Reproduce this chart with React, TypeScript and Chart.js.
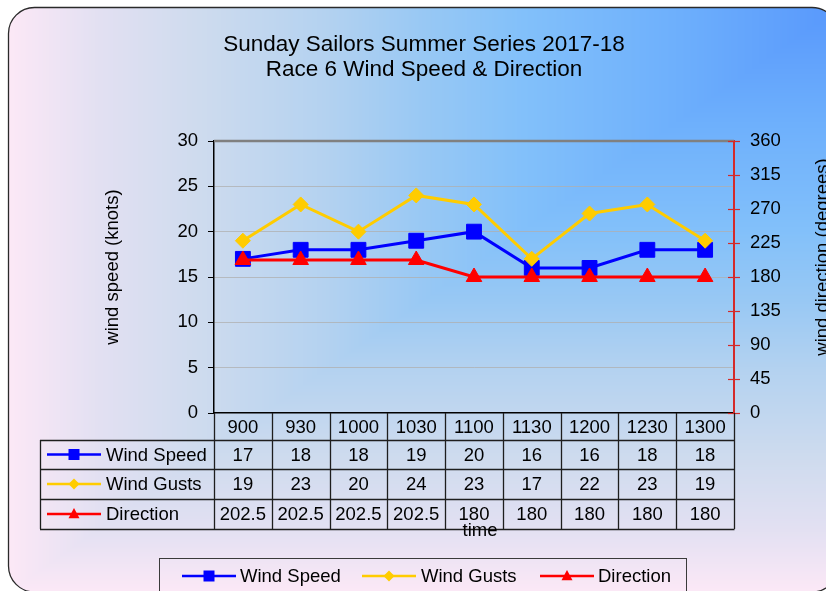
import { useEffect, useRef } from 'react';
import { Chart, registerables } from 'chart.js';

Chart.register(...registerables);

// ---------- data ----------
const times = ['900', '930', '1000', '1030', '1100', '1130', '1200', '1230', '1300'];
const windSpeed = [17, 18, 18, 19, 20, 16, 16, 18, 18];
const windGusts = [19, 23, 20, 24, 23, 17, 22, 23, 19];
const direction = [202.5, 202.5, 202.5, 202.5, 180, 180, 180, 180, 180];
const seriesNames = ['Wind Speed', 'Wind Gusts', 'Direction'];
const titleLines = ['Sunday Sailors Summer Series 2017-18', 'Race 6 Wind Speed & Direction'];
const leftAxisTitle = 'wind speed (knots)';
const rightAxisTitle = 'wind direction (degrees)';
const xAxisTitle = 'time';

// ---------- styles ----------
const FONT = "'Liberation Sans', Arial, sans-serif";
const BLUE = '#0000ff';
const YELLOW = '#ffcc00';
const RED = '#ff0000';
const AXIS_RED = '#d42a2a';
const seriesColors = [BLUE, YELLOW, RED];
const seriesMarkers = ['rect', 'diamond', 'triangle'];
const tableValues = [windSpeed, windGusts, direction];

const BOX = { l: 8.5, t: 7.5, r: 838, b: 592, rad: 26 };
const gradStops: [number, number[]][] = [
  [0, [0x58, 0x98, 0xfc]],
  [0.2, [0x6e, 0xb0, 0xfc]],
  [0.38, [0x82, 0xc0, 0xfa]],
  [0.5, [0x98, 0xc8, 0xf4]],
  [0.62, [0xb4, 0xd2, 0xf0]],
  [0.77, [0xce, 0xdb, 0xee]],
  [0.89, [0xe2, 0xe0, 0xf2]],
  [1, [0xfc, 0xe8, 0xf6]],
];

function gradColor(t: number) {
  t = Math.max(0, Math.min(1, t));
  for (let i = 1; i < gradStops.length; i++) {
    const [t1, c1] = gradStops[i];
    const [t0, c0] = gradStops[i - 1];
    if (t <= t1) {
      const f = (t - t0) / (t1 - t0);
      return [0, 1, 2].map((k) => c0[k] + (c1[k] - c0[k]) * f);
    }
  }
  return gradStops[gradStops.length - 1][1];
}

let bgCache: HTMLCanvasElement | null = null;
function getBg(w: number, h: number) {
  if (bgCache && bgCache.width === w && bgCache.height === h) return bgCache;
  const c = document.createElement('canvas');
  c.width = w;
  c.height = h;
  const cx = c.getContext('2d')!;
  const img = cx.createImageData(w, h);
  const W = BOX.r - BOX.l;
  const H = BOX.b - BOX.t;
  for (let y = 0; y < h; y++) {
    for (let x = 0; x < w; x++) {
      const t = Math.max((BOX.r - x) / W, (y - BOX.t) / H);
      const col = gradColor(t);
      const i = (y * w + x) * 4;
      img.data[i] = col[0];
      img.data[i + 1] = col[1];
      img.data[i + 2] = col[2];
      img.data[i + 3] = 255;
    }
  }
  cx.putImageData(img, 0, 0);
  bgCache = c;
  return c;
}

function roundPath(ctx: CanvasRenderingContext2D) {
  const { l, t, r, b, rad } = BOX;
  ctx.beginPath();
  ctx.moveTo(l + rad, t);
  ctx.lineTo(r - rad, t);
  ctx.arcTo(r, t, r, t + rad, rad);
  ctx.lineTo(r, b - rad);
  ctx.arcTo(r, b, r - rad, b, rad);
  ctx.lineTo(l + rad, b);
  ctx.arcTo(l, b, l, b - rad, rad);
  ctx.lineTo(l, t + rad);
  ctx.arcTo(l, t, l + rad, t, rad);
  ctx.closePath();
}

function drawMarker(ctx: CanvasRenderingContext2D, style: string, x: number, y: number, s: number, color: string) {
  ctx.fillStyle = color;
  ctx.beginPath();
  if (style === 'rect') {
    ctx.rect(x - s / 2, y - s / 2, s, s);
  } else if (style === 'diamond') {
    ctx.moveTo(x, y - s / 2);
    ctx.lineTo(x + s / 2, y);
    ctx.lineTo(x, y + s / 2);
    ctx.lineTo(x - s / 2, y);
    ctx.closePath();
  } else {
    ctx.moveTo(x, y - s * 0.55);
    ctx.lineTo(x + s / 2, y + s * 0.38);
    ctx.lineTo(x - s / 2, y + s * 0.38);
    ctx.closePath();
  }
  ctx.fill();
}

function drawKey(ctx: CanvasRenderingContext2D, i: number, x0: number, x1: number, y: number, s: number) {
  ctx.strokeStyle = seriesColors[i];
  ctx.lineWidth = 2.5;
  ctx.beginPath();
  ctx.moveTo(x0, y);
  ctx.lineTo(x1, y);
  ctx.stroke();
  drawMarker(ctx, seriesMarkers[i], (x0 + x1) / 2, y, s, seriesColors[i]);
}

const bgPlugin = {
  id: 'bgPlugin',
  beforeDraw(chart: any) {
    const ctx: CanvasRenderingContext2D = chart.ctx;
    ctx.save();
    ctx.fillStyle = '#ffffff';
    ctx.fillRect(0, 0, chart.width, chart.height);
    const img = getBg(chart.width, chart.height);
    roundPath(ctx);
    ctx.save();
    ctx.clip();
    ctx.drawImage(img, 0, 0);
    ctx.restore();
    roundPath(ctx);
    ctx.strokeStyle = '#2a2a2a';
    ctx.lineWidth = 1.3;
    ctx.stroke();
    ctx.restore();
  },
  afterDraw(chart: any) {
    const ctx: CanvasRenderingContext2D = chart.ctx;
    const area = chart.chartArea;
    const xs = chart.scales.x;
    const y1 = chart.scales.y1;
    ctx.save();

    // plot top border
    ctx.strokeStyle = '#808080';
    ctx.lineWidth = 2.5;
    ctx.beginPath();
    ctx.moveTo(area.left, area.top);
    ctx.lineTo(area.right, area.top);
    ctx.stroke();

    // right axis line and crossing ticks
    ctx.strokeStyle = AXIS_RED;
    ctx.lineWidth = 2;
    ctx.beginPath();
    ctx.moveTo(area.right, area.top);
    ctx.lineTo(area.right, area.bottom);
    ctx.stroke();
    ctx.lineWidth = 1.2;
    y1.ticks.forEach((tk: any) => {
      const py = Math.round(y1.getPixelForValue(tk.value)) + 0.5;
      ctx.beginPath();
      ctx.moveTo(area.right - 6, py);
      ctx.lineTo(area.right + 6, py);
      ctx.stroke();
    });

    // titles
    ctx.fillStyle = '#000';
    ctx.textAlign = 'center';
    ctx.textBaseline = 'middle';
    ctx.font = `22.5px ${FONT}`;
    ctx.fillText(titleLines[0], 424, 45);
    ctx.fillText(titleLines[1], 424, 70);

    ctx.font = `18.5px ${FONT}`;
    ctx.save();
    ctx.translate(113, 267);
    ctx.rotate(-Math.PI / 2);
    ctx.fillText(leftAxisTitle, 0, 0);
    ctx.restore();
    ctx.save();
    ctx.translate(823, 257);
    ctx.rotate(-Math.PI / 2);
    ctx.fillText(rightAxisTitle, 0, 0);
    ctx.restore();

    // data table
    const rowsY = [area.bottom, 440, 469, 499, 529];
    const tableLeft = 40;
    const step = (area.right - area.left) / times.length;
    ctx.strokeStyle = '#1e1e1e';
    ctx.lineWidth = 1.3;
    ctx.beginPath();
    for (let i = 0; i <= times.length; i++) {
      const px = Math.round(area.left + i * step) + 0.5;
      ctx.moveTo(px, area.bottom);
      ctx.lineTo(px, rowsY[4]);
    }
    for (let r = 1; r < rowsY.length; r++) {
      ctx.moveTo(tableLeft, rowsY[r] + 0.5);
      ctx.lineTo(area.right + 0.5, rowsY[r] + 0.5);
    }
    ctx.moveTo(tableLeft + 0.5, rowsY[1]);
    ctx.lineTo(tableLeft + 0.5, rowsY[4]);
    ctx.stroke();

    ctx.fillStyle = '#000';
    ctx.font = `18.5px ${FONT}`;
    ctx.textAlign = 'center';
    times.forEach((t, i) => {
      const px = xs.getPixelForValue(i);
      ctx.fillText(t, px, (rowsY[0] + rowsY[1]) / 2 + 1);
      tableValues.forEach((vals, r) => {
        ctx.fillStyle = '#000';
        ctx.fillText(String(vals[i]), px, (rowsY[r + 1] + rowsY[r + 2]) / 2 + 1);
      });
    });
    seriesNames.forEach((name, r) => {
      const cy = (rowsY[r + 1] + rowsY[r + 2]) / 2;
      drawKey(ctx, r, 47, 101, cy, 11);
      ctx.fillStyle = '#000';
      ctx.textAlign = 'left';
      ctx.fillText(name, 106, cy + 1);
    });

    // x axis title
    ctx.textAlign = 'center';
    ctx.fillStyle = '#000';
    ctx.fillText(xAxisTitle, 480, 531);

    // legend
    ctx.strokeStyle = '#3a3a3a';
    ctx.lineWidth = 1;
    ctx.strokeRect(159.5, 558.5, 527, 45);
    const keyX = [[182, 236], [362, 416], [540, 594]];
    const textX = [240, 421, 598];
    seriesNames.forEach((name, i) => {
      drawKey(ctx, i, keyX[i][0], keyX[i][1], 576, 11);
      ctx.fillStyle = '#000';
      ctx.textAlign = 'left';
      ctx.fillText(name, textX[i], 577);
    });

    ctx.restore();
  },
};

export default function App() {
  const ref = useRef<HTMLCanvasElement>(null);
  useEffect(() => {
    const canvas = ref.current!;
    const tickFont = { family: FONT, size: 18.5 };
    const chart = new Chart(canvas, {
      type: 'line',
      data: {
        labels: times,
        datasets: [
          {
            label: seriesNames[0],
            data: windSpeed,
            yAxisID: 'y',
            borderColor: BLUE,
            backgroundColor: BLUE,
            borderWidth: 3,
            pointStyle: 'rect',
            pointRadius: 10.5,
            pointBorderWidth: 1,
            order: 3,
          },
          {
            label: seriesNames[1],
            data: windGusts,
            yAxisID: 'y',
            borderColor: YELLOW,
            backgroundColor: YELLOW,
            borderWidth: 3,
            pointStyle: 'rectRot',
            pointRadius: 7.5,
            pointBorderWidth: 1,
            order: 2,
          },
          {
            label: seriesNames[2],
            data: direction,
            yAxisID: 'y1',
            borderColor: RED,
            backgroundColor: RED,
            borderWidth: 3,
            pointStyle: 'triangle',
            pointRadius: 9,
            pointBorderWidth: 1,
            order: 1,
          },
        ],
      },
      options: {
        responsive: false,
        animation: false,
        devicePixelRatio: 1,
        layout: { padding: { top: 141, left: 0, right: 0, bottom: 0 } },
        plugins: {
          legend: { display: false },
          title: { display: false },
          tooltip: { enabled: false },
        },
        scales: {
          x: {
            type: 'category',
            offset: true,
            ticks: { display: false },
            grid: { display: false },
            border: { display: true, color: '#000', width: 1.5 },
            afterFit: (s: any) => {
              s.height = 591 - 413;
            },
          },
          y: {
            position: 'left',
            min: 0,
            max: 30,
            ticks: { stepSize: 5, color: '#000', font: tickFont, padding: 10 },
            grid: {
              color: (c: any) =>
                c.tick && (c.tick.value === 0 || c.tick.value === 30) ? 'rgba(0,0,0,0)' : 'rgba(175,175,175,0.75)',
              tickColor: '#000',
              tickLength: 6,
              lineWidth: 1,
            },
            border: { display: true, color: '#000', width: 1.5 },
            afterFit: (s: any) => {
              s.width = 214;
            },
          },
          y1: {
            position: 'right',
            min: 0,
            max: 360,
            ticks: { stepSize: 45, color: '#000', font: tickFont, padding: 10 },
            grid: { drawOnChartArea: false, drawTicks: true, tickColor: AXIS_RED, tickLength: 6, lineWidth: 1 },
            border: { display: true, color: AXIS_RED, width: 2 },
            afterFit: (s: any) => {
              s.width = 826 - 734;
            },
          },
        },
      },
      plugins: [bgPlugin],
    } as any);
    return () => chart.destroy();
  }, []);
  return (
    <div style={{ position: 'fixed', left: 0, top: 0, width: 826, height: 591, overflow: 'hidden' }}>
      <canvas ref={ref} width={826} height={591} style={{ display: 'block', width: 826, height: 591 }} />
    </div>
  );
}
